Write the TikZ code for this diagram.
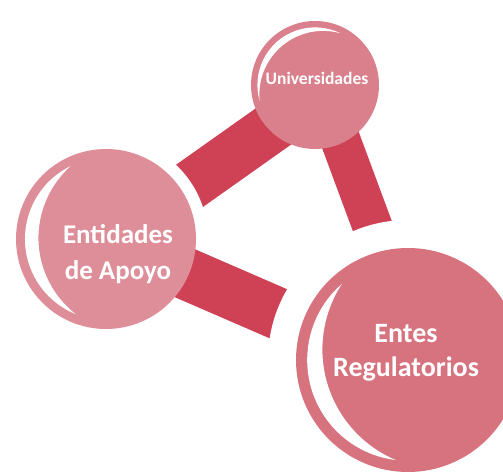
\documentclass[tikz,border=0pt]{standalone}
\usepackage{fontspec}
\setmainfont{Carlito}
\usepackage{tikz}
\usetikzlibrary{positioning}
\definecolor{uniPink}{HTML}{DA808C}
\definecolor{apoPink}{HTML}{DE8E98}
\definecolor{regPink}{HTML}{D7737F}
\definecolor{barRed}{HTML}{CF4154}
\tikzstyle{bubble}=[circle, inner sep=0pt, draw=none]
\tikzstyle{halo}=[circle, inner sep=0pt, fill=white]
\tikzstyle{linkBar}=[draw=barRed]
\tikzstyle{bubbleText}=[text=white, align=center, inner sep=0pt]
% #1 centre, #2 radius, #3 direction, #4 inner half angle, #5 inner radius factor
\newcommand{\shine}[5]{%
  \fill[white, shift={(#1)}, rotate=#3-180] (114:0.9*#2)
    arc[start angle=114, end angle=246, radius=0.9*#2]
    arc[start angle=180+#4, end angle=180-#4, radius=#5*#2] -- cycle;}

\begin{document}
\begin{tikzpicture}[x=1pt, y=1pt]
  \useasboundingbox (0,0) rectangle (503,476);

  % centres
  \coordinate (uni) at (315,391);
  \coordinate (apo) at (106,237);
  \coordinate (reg) at (408,116);

  % links
  \draw[linkBar, line width=50pt] ([yshift=-6pt]apo) -- ([yshift=-12pt]uni);
  \node[halo, minimum size=204pt] (apoHalo) at (apo) {};
  \draw[linkBar, line width=40pt] ([xshift=5pt]uni) -- ([xshift=14pt]reg);
  \draw[linkBar, line width=52pt] (apo) -- ([yshift=-10pt]reg);
  \node[halo, minimum size=280pt] (regHalo) at (reg) {};

  % bubbles
  \node[bubble, fill=uniPink, minimum size=128pt] (uniBall) at (uni) {};
  \node[bubble, fill=apoPink, minimum size=180pt] (apoBall) at (apo) {};
  \node[bubble, fill=regPink, minimum size=224pt] (regBall) at (reg) {};

  \shine{uni}{64}{130}{55.6}{0.996}
  \shine{apo}{90}{182}{50.1}{1.072}
  \shine{reg}{112}{197}{50.1}{1.072}

  \node[bubbleText, font=\bfseries\fontsize{17.5}{22}\selectfont] (uniText)
    at ([xshift=2pt, yshift=7pt]uni) {Universidades};
  \node[bubbleText, font=\bfseries\fontsize{27}{36}\selectfont] (apoText)
    at ([xshift=12pt, yshift=-15pt]apo) {Entidades\\de Apoyo};
  \node[bubbleText, font=\bfseries\fontsize{28}{34}\selectfont] (regText)
    at ([xshift=-2pt, yshift=7pt]reg) {Entes\\Regulatorios};
\end{tikzpicture}
\end{document}
